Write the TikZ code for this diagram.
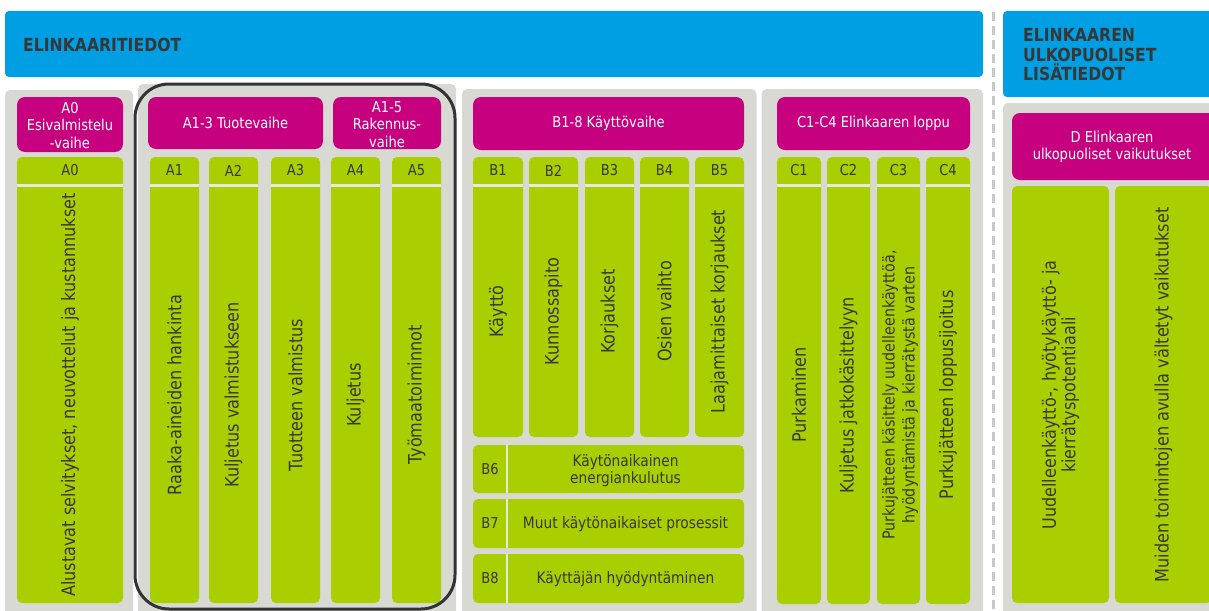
\documentclass[tikz,border=0pt]{standalone}
\usepackage{fontspec}
\setmainfont{DejaVu Sans}[FakeStretch=0.87]
\definecolor{infoblue}{RGB}{0,159,227}
\definecolor{phasepink}{RGB}{198,0,126}
\definecolor{modgreen}{RGB}{170,207,0}
\definecolor{panelgrey}{RGB}{217,217,212}
\definecolor{seamwhite}{RGB}{230,234,214}
\definecolor{cutgrey}{RGB}{200,200,200}
\definecolor{ink}{RGB}{55,55,55}

\begin{document}
\begin{tikzpicture}[x=1pt,y=-1pt]
    \tikzstyle{band} = [fill=infoblue,rounded corners=4pt]
    \tikzstyle{title} = [text=ink,font=\bfseries\fontsize{18}{19.5}\selectfont,align=left,anchor=west,inner sep=0pt]
    \tikzstyle{panel} = [fill=panelgrey,rounded corners=5pt]
    \tikzstyle{phase} = [fill=phasepink,rounded corners=8pt]
    \tikzstyle{phasetext} = [text=white,font=\fontsize{15}{17.5}\selectfont,align=center,inner sep=0pt]
    \tikzstyle{module} = [fill=modgreen,rounded corners=5pt]
    \tikzstyle{seam} = [draw=seamwhite,line width=2.3pt]
    \tikzstyle{cut} = [draw=cutgrey,line width=3pt,dash pattern=on 9pt off 5pt]
    \tikzstyle{code} = [text=ink,font=\fontsize{15}{17}\selectfont,inner sep=0pt]
    \tikzstyle{stage} = [text=ink,font=\fontsize{18.5}{20}\selectfont,rotate=90,align=center,inner sep=0pt]
    \tikzstyle{usetext} = [text=ink,font=\fontsize{15.8}{17.6}\selectfont,align=center,inner sep=0pt]
    \tikzstyle{outline} = [draw=black!80,line width=3pt,rounded corners=34pt]

    \useasboundingbox (0,0) rectangle (1209,610);
    \clip (0,0) rectangle (1209,610);

    % headline bands
    \fill[band] (5,11) rectangle (983,77);
    \node[title] (info) at (23,45) {ELINKAARITIEDOT};
    \fill[band] (1003,11) rectangle (1216,97);
    \node[title] (extra) at (1023,55) {ELINKAAREN\\ULKOPUOLISET\\LISÄTIEDOT};
    \draw[cut] (993,12) -- (993,612);

    % grey backgrounds
    \fill[panel] (5,90) rectangle (133,620);
    \fill[panel] (138,84) rectangle (456,620);
    \fill[panel] (462,89) rectangle (756.5,620);
    \fill[panel] (761.5,89) rectangle (983,620);
    \fill[panel] (1003,103) rectangle (1216,620);

    % phases
    \fill[phase] (17,97) rectangle (123,152);
    \node[phasetext] (pa0) at (70,125.5) {A0\\Esivalmistelu\\-vaihe};
    \fill[phase] (148,97) rectangle (323,149);
    \node[phasetext] (pa13) at (235.5,123) {A1-3 Tuotevaihe};
    \fill[phase] (333,97) rectangle (441,149);
    \node[phasetext] (pa15) at (387,124.5) {A1-5\\Rakennus-\\vaihe};
    \fill[phase] (473,97) rectangle (744,150);
    \node[phasetext] (pb) at (608.5,123.5) {B1-8 Käyttövaihe};
    \fill[phase] (777,97) rectangle (970,150);
    \node[phasetext] (pc) at (873.5,123.5) {C1-C4 Elinkaaren loppu};
    \fill[phase] (1012,113) rectangle (1216,180);
    \node[phasetext] (pd) at (1112,147) {D Elinkaaren\\ulkopuoliset vaikutukset};

    % A modules
    \fill[module] (17,157) rectangle (123,603);
    \draw[seam] (17,185.5) -- (123,185.5);
    \node[code] (ka0) at (70,170.5) {A0};
    \node[stage] (ta0) at (70,395) {Alustavat selvitykset, neuvottelut ja kustannukset};

    \fill[module] (150,157) rectangle (199,603);
    \draw[seam] (150,185.5) -- (199,185.5);
    \node[code] (ka1) at (174.5,170.5) {A1};
    \node[stage] (ta1) at (174.5,395) {Raaka-aineiden hankinta};

    \fill[module] (209,157) rectangle (258,603);
    \draw[seam] (209,185.5) -- (258,185.5);
    \node[code] (ka2) at (233.5,170.5) {A2};
    \node[stage] (ta2) at (233.5,395) {Kuljetus valmistukseen};

    \fill[module] (271,157) rectangle (320,603);
    \draw[seam] (271,185.5) -- (320,185.5);
    \node[code] (ka3) at (295.5,170.5) {A3};
    \node[stage] (ta3) at (295.5,395) {Tuotteen valmistus};

    \fill[module] (331,157) rectangle (380,603);
    \draw[seam] (331,185.5) -- (380,185.5);
    \node[code] (ka4) at (355.5,170.5) {A4};
    \node[stage] (ta4) at (355.5,395) {Kuljetus};

    \fill[module] (392,157) rectangle (441,603);
    \draw[seam] (392,185.5) -- (441,185.5);
    \node[code] (ka5) at (416.5,170.5) {A5};
    \node[stage] (ta5) at (416.5,395) {Työmaatoiminnot};

    % rounded frame round A1-A5
    \draw[outline] (135,84) rectangle (455,609);

    % B modules
    \fill[module] (473,157) rectangle (523,437);
    \draw[seam] (473,185.5) -- (523,185.5);
    \node[code] (kb1) at (498,170.5) {B1};
    \node[stage] (tb1) at (498,311.5) {Käyttö};

    \fill[module] (529,157) rectangle (578,437);
    \draw[seam] (529,185.5) -- (578,185.5);
    \node[code] (kb2) at (553.5,170.5) {B2};
    \node[stage] (tb2) at (553.5,311.5) {Kunnossapito};

    \fill[module] (585,157) rectangle (634,437);
    \draw[seam] (585,185.5) -- (634,185.5);
    \node[code] (kb3) at (609.5,170.5) {B3};
    \node[stage] (tb3) at (609.5,311.5) {Korjaukset};

    \fill[module] (640,157) rectangle (689,437);
    \draw[seam] (640,185.5) -- (689,185.5);
    \node[code] (kb4) at (664.5,170.5) {B4};
    \node[stage] (tb4) at (664.5,311.5) {Osien vaihto};

    \fill[module] (695,157) rectangle (744,437);
    \draw[seam] (695,185.5) -- (744,185.5);
    \node[code] (kb5) at (719.5,170.5) {B5};
    \node[stage] (tb5) at (719.5,311.5) {Laajamittaiset korjaukset};

    \fill[module] (473,445) rectangle (744,493);
    \draw[seam] (507,445) -- (507,493);
    \node[code] (kb6) at (490,469) {B6};
    \node[usetext] (tb6) at (625.5,470.5) {Käytönaikainen\\energiankulutus};

    \fill[module] (473,499) rectangle (744,548);
    \draw[seam] (507,499) -- (507,548);
    \node[code] (kb7) at (490,523.5) {B7};
    \node[usetext] (tb7) at (625.5,524.5) {Muut käytönaikaiset prosessit};

    \fill[module] (473,554) rectangle (744,603);
    \draw[seam] (507,554) -- (507,603);
    \node[code] (kb8) at (490,578.5) {B8};
    \node[usetext] (tb8) at (625.5,579) {Käyttäjän hyödyntäminen};

    % C modules
    \fill[module] (777,157) rectangle (821,604);
    \draw[seam] (777,185.5) -- (821,185.5);
    \node[code] (kc1) at (799,170.5) {C1};
    \node[stage] (tc1) at (799,395) {Purkaminen};

    \fill[module] (827,157) rectangle (870,604);
    \draw[seam] (827,185.5) -- (870,185.5);
    \node[code] (kc2) at (848.5,170.5) {C2};
    \node[stage] (tc2) at (848.5,395) {Kuljetus jatkokäsittelyyn};

    \fill[module] (877,157) rectangle (920,604);
    \draw[seam] (877,185.5) -- (920,185.5);
    \node[code] (kc3) at (898.5,170.5) {C3};
    \node[stage,font=\fontsize{16.4}{20}\selectfont] (tc3) at (900,395) {Purkujätteen käsittely uudelleenkäyttöä,\\hyödyntämistä ja kierrätystä varten};

    \fill[module] (926,157) rectangle (970,604);
    \draw[seam] (926,185.5) -- (970,185.5);
    \node[code] (kc4) at (948,170.5) {C4};
    \node[stage] (tc4) at (948,395) {Purkujätteen loppusijoitus};

    % D modules
    \fill[module] (1012,186) rectangle (1109,603);
    \node[stage,font=\fontsize{18.4}{19.5}\selectfont] (td1) at (1060.5,395) {Uudelleenkäyttö-, hyötykäyttö- ja\\kierrätyspotentiaali};
    \fill[module] (1115,186) rectangle (1212,603);
    \node[stage] (td2) at (1163.5,395) {Muiden toimintojen avulla vältetyt vaikutukset};
\end{tikzpicture}
\end{document}
